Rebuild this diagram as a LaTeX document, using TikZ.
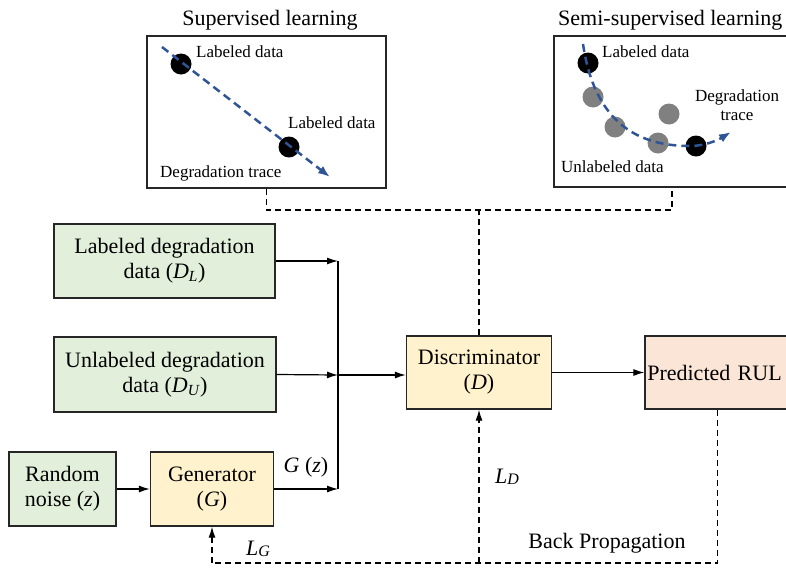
\documentclass[tikz,border=0pt]{standalone}
\usepackage{fontspec}
\setmainfont{Liberation Serif}
\usetikzlibrary{arrows.meta,calc}
\definecolor{gfill}{HTML}{E2EFDA}
\definecolor{yfill}{HTML}{FFF2CC}
\definecolor{pfill}{HTML}{FBE5D6}
\definecolor{tblue}{HTML}{2F5597}
\definecolor{dotgray}{HTML}{808080}
\begin{document}
\begin{tikzpicture}[x=1pt,y=-1pt,
  box/.style={draw=black!85,line width=1.3pt,inner sep=0pt,align=center,font=\fontsize{22}{25}\selectfont},
  gbox/.style={box,fill=gfill},
  ybox/.style={box,fill=yfill},
  pbox/.style={box,fill=pfill},
  frame/.style={draw=black!85,line width=1.4pt,inner sep=0pt},
  arr/.style={-{Latex[length=11pt,width=7pt]},line width=1.2pt},
  dsh/.style={dash pattern=on 6pt off 4pt,line width=1.2pt},
  trace/.style={draw=tblue,dash pattern=on 8pt off 5pt,line width=2.5pt,-{Latex[length=12pt,width=9pt]}},
  small/.style={font=\fontsize{17}{19}\selectfont,inner sep=0pt},
  lbl/.style={font=\fontsize{22}{25}\selectfont,inner sep=0pt}
]
\useasboundingbox (0,0) rectangle (786,568);
\clip (0,0) rectangle (786,568);

% top panels
\node[lbl] (t1) at (270,20) {Supervised learning};
\node[lbl,anchor=west] (t2) at (558,20) {Semi-supervised learning};
\node[frame,minimum width=239pt,minimum height=152pt] (sup) at (266.5,112) {};
\node[frame,minimum width=236pt,minimum height=151pt] (semi) at (672,111.5) {};

% supervised contents
\fill (181,64) circle (10.5pt);
\fill (289,147) circle (10.5pt);
\draw[trace] (162,47) -- (330,177);
\node[small,anchor=west] (s1) at (196,52) {Labeled data};
\node[small,anchor=west] (s2) at (288,123) {Labeled data};
\node[small,anchor=west] (s3) at (160,173) {Degradation trace};

% semi-supervised contents
\fill[dotgray] (593,97) circle (10.5pt);
\fill[dotgray] (615,127) circle (10.5pt);
\fill[dotgray] (658,143) circle (10.5pt);
\fill[dotgray] (669,114) circle (10.5pt);
\fill (588,63) circle (10.5pt);
\fill (696,146) circle (10.5pt);
\draw[trace] (583,44) .. controls (595,125) and (640,146) .. (690,146) .. controls (705,146) and (718,140) .. (731,132);
\node[small,anchor=west] (m1) at (602,52) {Labeled data};
\node[small,align=center] (m2) at (737,105) {Degradation\\trace};
\node[small,anchor=west] (m3) at (561,167) {Unlabeled data};

% main blocks
\node[gbox,minimum width=221pt,minimum height=74pt] (DL) at (164.5,261) {Labeled degradation\\data (\textit{D}\textsubscript{\textit{L}})};
\node[gbox,minimum width=222pt,minimum height=75pt] (DU) at (165,374.5) {Unlabeled degradation\\data (\textit{D}\textsubscript{\textit{U}})};
\node[gbox,minimum width=107pt,minimum height=74pt] (RN) at (62.5,489) {Random\\noise (\textit{z})};
\node[ybox,minimum width=123pt,minimum height=74pt] (G) at (212,489) {Generator\\(\textit{G})};
\node[ybox,minimum width=145pt,minimum height=73pt] (D) at (479,372.5) {Discriminator\\(\textit{D})};
\node[pbox,minimum width=145pt,minimum height=73pt,text width=145pt] (R) at (717.5,372.5) {\hspace*{-6pt}Predicted RUL};

% bus
\coordinate (bt) at (338,261);
\coordinate (bm) at (338,375);
\coordinate (bb) at (338,489);
\draw[line width=1.2pt] (bt) -- (bb);
\draw[arr] (DL.east) -- (bt);
\draw[arr] (DU.east) -- (bm);
\draw[arr] (RN.east) -- (G.west);
\draw[arr] (G.east) -- (bb);
\draw[arr] (bm) -- (bm -| D.west);
\draw[arr] (D.east) -- (R.west);

% top dashed connections
\coordinate (tj) at (479,210);
\draw[dsh] (sup.south) -- (sup.south |- tj) -- (semi.south |- tj) -- (semi.south);
\draw[dsh] (D.north) -- (D.north |- tj);

% back propagation
\coordinate (fb) at (479,563);
\draw[dsh] (R.south) -- (R.south |- fb) -- (G.south |- fb);
\draw[dsh,arr] (G.south |- fb) -- (G.south);
\draw[dsh,arr] (fb) -- (D.south);

% labels
\node[lbl] (gz) at (306,467) {\textit{G} (\textit{z})};
\node[lbl] (lg) at (258,549) {\textit{L}\raisebox{-1pt}{\fontsize{16}{18}\selectfont\textit{G}}};
\node[lbl] (ld) at (507,477) {\textit{L}\raisebox{-1pt}{\fontsize{16}{18}\selectfont\textit{D}}};
\node[lbl] (bp) at (607,543) {Back Propagation};
\end{tikzpicture}
\end{document}
